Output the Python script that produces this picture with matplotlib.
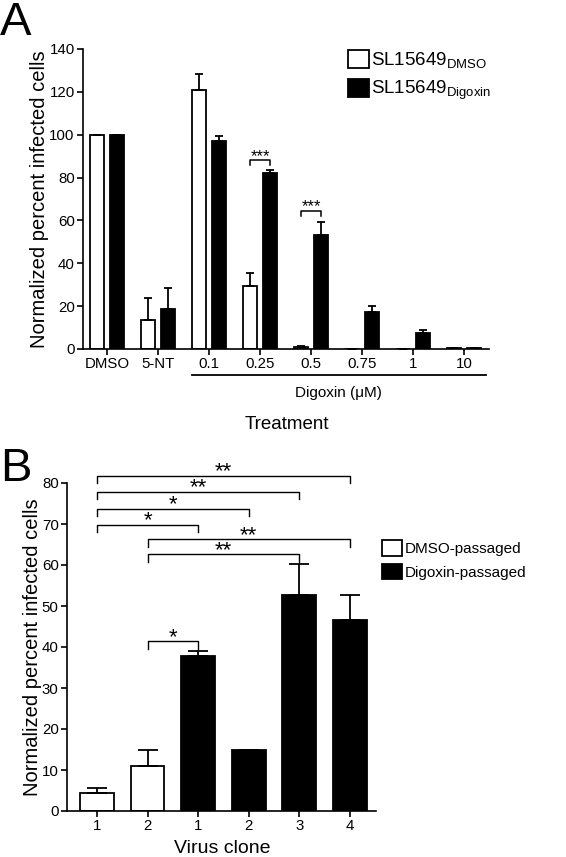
import numpy as np
import matplotlib
matplotlib.use("Agg")
import matplotlib.pyplot as plt
from matplotlib.patches import Patch

plt.rcParams["font.family"] = ["Liberation Sans", "DejaVu Sans"]
plt.rcParams["mathtext.fontset"] = "custom"
plt.rcParams["mathtext.rm"] = "Liberation Sans"
plt.rcParams["mathtext.it"] = "Liberation Sans"
plt.rcParams["axes.linewidth"] = 1.2

# Panel A data
treatments = ["DMSO", "5-NT", "0.1", "0.25", "0.5", "0.75", "1", "10"]
dmso_vals = [100, 13.5, 121, 29.5, 1.0, 0.2, 0.0, 0.3]
dmso_err = [0, 10.5, 7.5, 6.0, 0.6, 0, 0, 0]
dig_vals = [100, 18.5, 97, 82, 53, 17.5, 7.5, 0.3]
dig_err = [0, 10.0, 2.5, 1.5, 6.5, 2.5, 1.3, 0]

# Panel B data
clone_labels = ["1", "2", "1", "2", "3", "4"]
clone_vals = [4.5, 11.0, 37.7, 14.8, 52.8, 46.5]
clone_err = [1.0, 3.8, 1.3, 0.2, 7.4, 6.2]
clone_group = ["DMSO", "DMSO", "Digoxin", "Digoxin", "Digoxin", "Digoxin"]
# (left bar, right bar, bracket height, stars)
brackets_b = [
    (0, 5, 81.7, "**"),
    (0, 4, 77.8, "**"),
    (0, 3, 73.7, "*"),
    (0, 2, 69.8, "*"),
    (1, 5, 66.3, "**"),
    (1, 4, 62.6, "**"),
    (1, 2, 41.4, "*"),
]

W, H = 566, 857
fig = plt.figure(figsize=(W / 100, H / 100), dpi=100)

# ---------------- Panel A ----------------
axA = fig.add_axes([83 / W, 1 - 349 / H, 406 / W, 300 / H])
x = np.arange(len(treatments))
off, bw = 0.19, 0.27
axA.bar(x - off, dmso_vals, bw, color="white", edgecolor="black", linewidth=1.3,
        yerr=[np.zeros(len(x)), dmso_err], capsize=3,
        error_kw=dict(elinewidth=1.3, capthick=1.3, ecolor="black"))
axA.bar(x + off, dig_vals, bw, color="black", edgecolor="black", linewidth=1.3,
        yerr=[np.zeros(len(x)), dig_err], capsize=3,
        error_kw=dict(elinewidth=1.3, capthick=1.3, ecolor="black"))
axA.set_xlim(-0.47, 7.49)
axA.set_ylim(0, 140)
axA.set_yticks(range(0, 141, 20))
axA.set_xticks(x)
axA.set_xticklabels(treatments)
axA.spines["top"].set_visible(False)
axA.spines["right"].set_visible(False)
axA.tick_params(direction="out", length=4, width=1.2, labelsize=10.8, pad=2)
axA.set_ylabel("Normalized percent infected cells", fontsize=14.5, labelpad=0)

for gi, ytop, ybot in [(3, 88, 86), (4, 64.5, 62)]:
    axA.plot([gi - off, gi - off, gi + off, gi + off], [ybot, ytop, ytop, ybot],
             color="black", linewidth=1.1)
    axA.text(gi, ytop - 1.5, "***", ha="center", va="bottom", fontsize=12)

trans = axA.get_xaxis_transform()
axA.plot([1.67, 7.43], [-0.087, -0.087], color="black", linewidth=1.3,
         transform=trans, clip_on=False)
axA.text(4.53, -0.147, "Digoxin (\u03bcM)", transform=trans, ha="center",
         va="center", fontsize=11)
axA.text(3.53, -0.253, "Treatment", transform=trans, ha="center",
         va="center", fontsize=13.5)

handlesA = [Patch(facecolor="white", edgecolor="black", linewidth=1.3),
            Patch(facecolor="black", edgecolor="black", linewidth=1.3)]
fig.legend(handlesA, [r"SL15649$_{\mathrm{DMSO}}$", r"SL15649$_{\mathrm{Digoxin}}$"],
           loc="upper left", bbox_to_anchor=(348 / W, 1 - 50 / H),
           frameon=False, fontsize=13.5, handlelength=1.1, handleheight=1.1,
           handletextpad=0.15, labelspacing=0.45, borderpad=0, borderaxespad=0)

fig.text(0, 1 - 1 / H, "A", fontsize=34, ha="left", va="top")

# ---------------- Panel B ----------------
axB = fig.add_axes([67 / W, 1 - 811 / H, 309 / W, 328 / H])
xb = np.arange(len(clone_labels))
colors = ["white" if g == "DMSO" else "black" for g in clone_group]
axB.bar(xb, clone_vals, 0.67, color=colors, edgecolor="black", linewidth=1.3,
        yerr=[np.zeros(len(xb)), clone_err], capsize=7,
        error_kw=dict(elinewidth=1.3, capthick=1.3, ecolor="black"))
axB.set_xlim(-0.594, 5.52)
axB.set_ylim(0, 80)
axB.set_yticks(range(0, 81, 10))
axB.set_xticks(xb)
axB.set_xticklabels(clone_labels)
axB.spines["top"].set_visible(False)
axB.spines["right"].set_visible(False)
axB.tick_params(direction="out", length=4, width=1.2, labelsize=10.8, pad=2)
axB.set_ylabel("Normalized percent infected cells", fontsize=14.5, labelpad=0)
axB.text(2.48, -0.113, "Virus clone", transform=axB.get_xaxis_transform(),
         ha="center", va="center", fontsize=14)

for a, b, y, s in brackets_b:
    axB.plot([a, a, b, b], [y - 1.8, y, y, y - 1.8], color="black",
             linewidth=1.0, clip_on=False)
    axB.text((a + b) / 2, y - 1.6, s, ha="center", va="bottom", fontsize=16,
             clip_on=False)

handlesB = [Patch(facecolor="white", edgecolor="black", linewidth=1.3),
            Patch(facecolor="black", edgecolor="black", linewidth=1.3)]
fig.legend(handlesB, ["DMSO-passaged", "Digoxin-passaged"],
           loc="upper left", bbox_to_anchor=(382 / W, 1 - 540 / H),
           frameon=False, fontsize=11, handlelength=1.3, handleheight=1.2,
           handletextpad=0.2, labelspacing=0.5, borderpad=0, borderaxespad=0)

fig.text(0, 1 - 447 / H, "B", fontsize=34, ha="left", va="top")

fig.savefig("out.png", dpi=100)
